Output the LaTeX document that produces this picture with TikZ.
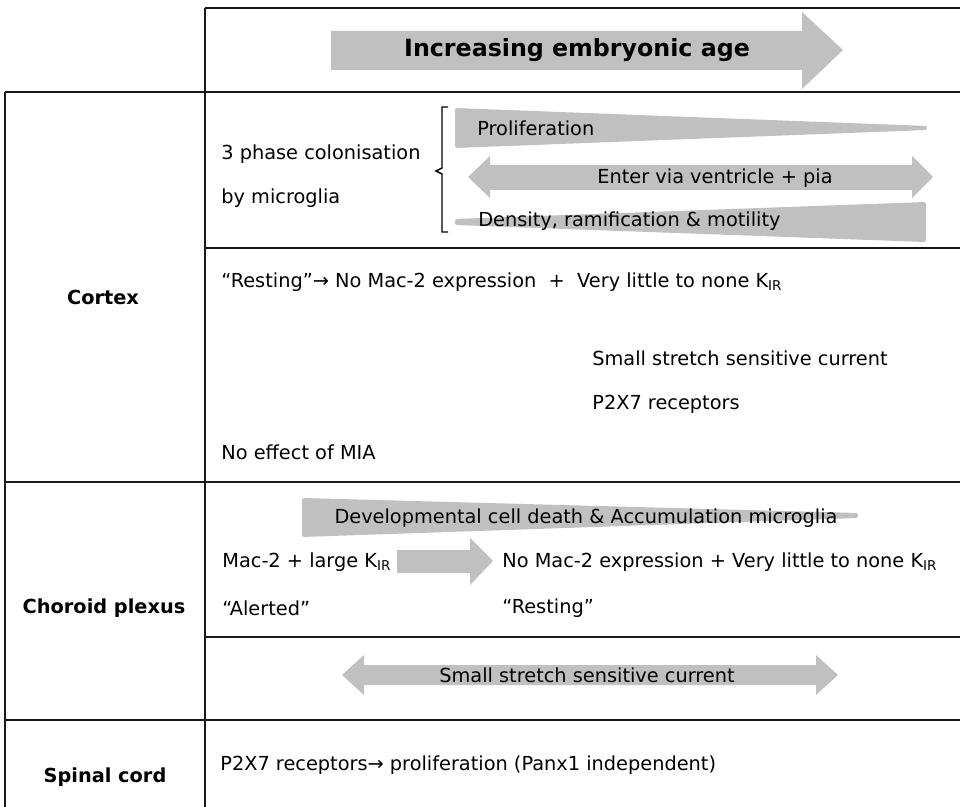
\documentclass[tikz,border=0pt]{standalone}
\usepackage{fontspec}
\setmainfont{DejaVu Sans}

\definecolor{bandgray}{RGB}{192,192,192}
\tikzset{
  rule/.style={line width=1pt, black!90},
  band/.style={fill=bandgray, rounded corners=1.2pt},
  txt/.style={anchor=west, inner sep=0pt, font=\fontsize{11}{13}\selectfont},
  ctxt/.style={inner sep=0pt, font=\fontsize{11}{13}\selectfont},
  rowhead/.style={inner sep=0pt, font=\fontsize{11}{13}\selectfont\bfseries},
}
\newcommand{\Kir}{K\textsubscript{IR}}

\begin{document}
\begin{tikzpicture}[x=0.2mm, y=-0.2mm]
    \useasboundingbox (0,0) rectangle (960,807);

    % Table rules
    \draw[rule] (205,8) -- (960,8);
    \foreach \y in {92,482,720} \draw[rule] (5,\y) -- (960,\y);
    \foreach \y in {248,637} \draw[rule] (205,\y) -- (960,\y);
    \draw[rule] (5,92) -- (5,807);
    \draw[rule] (205,8) -- (205,807);

    % Age arrow
    \fill[bandgray] (331,31) -- (802,31) -- (802,12) -- (843,50) -- (802,89) -- (802,70) -- (331,70) -- cycle;
    \node[inner sep=0pt, font=\fontsize{13.5}{16}\selectfont\bfseries] (age) at (577,50) {Increasing embryonic age};

    % Cortex
    \node[rowhead] (cortex) at (103,297) {Cortex};
    \node[txt] (phase) at (221,154) {3 phase colonisation};
    \node[txt] (micro) at (221,198) {by microglia};
    \draw[line width=0.8pt] (448,107) -- (442,107) -- (442,168) -- (436,171) -- (442,174) -- (442,232) -- (448,232);

    \fill[band] (455,108) -- (927,126) -- (927,130) -- (455,148) -- cycle;
    \node[txt] (prolif) at (477,128) {Proliferation};
    \fill[bandgray] (468,177) -- (490,156) -- (490,165) -- (912,165) -- (912,156) -- (933,177) -- (912,198) -- (912,190) -- (490,190) -- (490,198) -- cycle;
    \node[ctxt] (enter) at (715,178) {Enter via ventricle + pia};
    \fill[band] (455,219) -- (926,202) -- (926,242) -- (455,225) -- cycle;
    \node[txt] (density) at (478,221) {Density, ramification \& motility};

    \node[txt] (restc) at (221,282) {“Resting”→ No Mac-2 expression\ \ +\ \ Very little to none \Kir};
    \node[txt] (stretchc) at (592,358) {Small stretch sensitive current};
    \node[txt] (p2xc) at (592,404) {P2X7 receptors};
    \node[txt] (mia) at (221,452) {No effect of MIA};

    % Choroid plexus
    \node[rowhead] (choroid) at (104,608) {Choroid plexus};
    \fill[band] (302,498) -- (858,513) -- (858,518) -- (302,537) -- cycle;
    \node[ctxt] (death) at (586,518) {Developmental cell death \& Accumulation microglia};
    \node[txt] (alertk) at (222,562) {Mac-2 + large \Kir};
    \fill[bandgray] (397,550) -- (470,550) -- (470,538) -- (493,561) -- (470,585) -- (470,573) -- (397,573) -- cycle;
    \node[txt] (restk) at (502,562) {No Mac-2 expression + Very little to none \Kir};
    \node[txt] (alerted) at (222,608) {“Alerted”};
    \node[txt] (resting) at (502,608) {“Resting”};

    \fill[bandgray] (342,675) -- (364,655) -- (364,665) -- (816,665) -- (816,655) -- (838,675) -- (816,695) -- (816,685) -- (364,685) -- (364,695) -- cycle;
    \node[ctxt] (stretchp) at (587,675) {Small stretch sensitive current};

    % Spinal cord
    \node[rowhead] (spinal) at (105,777) {Spinal cord};
    \node[txt] (p2xs) at (220,765) {P2X7 receptors→ proliferation (Panx1 independent)};
\end{tikzpicture}
\end{document}
